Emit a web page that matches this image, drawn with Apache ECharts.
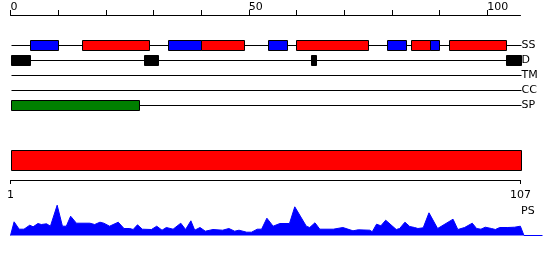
<!DOCTYPE html>
<html>
<head>
<meta charset="utf-8">
<script src="https://cdn.jsdelivr.net/npm/echarts@6/dist/echarts.min.js"></script>
<style>html,body{margin:0;padding:0;background:#fff}#c{width:550px;height:260px}</style>
</head>
<body>
<div id="c"></div>
<script>
// ---- data ----
const seqLength = 107;
const tracks = ['SS', 'D', 'TM', 'CC', 'SP'];
const topTickValues = [0, 10, 20, 30, 40, 50, 60, 70, 80, 90, 100];
const topTickLabels = [0, 50, 100];
const bottomTickLabels = [1, 107];

// secondary structure (H = helix, E = strand)
const ssStart = [4, 15, 33, 40, 54, 60, 79, 84, 88, 92];
const ssEnd   = [10, 29, 40, 49, 58, 75, 83, 88, 90, 104];
const ssType  = ['E', 'H', 'E', 'H', 'E', 'H', 'E', 'H', 'E', 'H'];
// disorder
const disStart = [0, 28, 63, 104];
const disEnd   = [4, 31, 64, 107];
// signal peptide
const spStart = [0];
const spEnd   = [27];
// domain bar
const domStart = [1];
const domEnd   = [107];

// PS profile
const psPos = [1, 1.75, 2.8, 3.8, 5, 5.7, 6.7, 7.4, 8.5, 9.3, 10.7, 11.8, 12.6, 13.5, 14.7, 17.5, 18.5, 19.6, 20.4, 21.6,
  23.4, 24.6, 25.8, 26.5, 27.4, 28.4, 30.3, 31.4, 32.5, 33.4, 34.8, 36.4, 37.4, 38.5, 39.3, 40.4, 41.5, 43.1, 45.1, 46.4,
  47.6, 48.5, 50.1, 51.1, 52.3, 53.2, 54.3, 55.6, 57, 59, 60.1, 62.5, 63.2, 64.3, 65.3, 68.1, 70.1, 72.2, 73.3, 75.7,
  76.2, 77.1, 78, 79, 81.2, 81.9, 83, 84, 85, 85.7, 86.8, 88, 89.8, 93, 94, 95.4, 97, 97.9, 98.8, 99.7,
  101, 101.8, 102.7, 104.4, 105.8, 107, 107.75, 111.6];
const psScore = [0, 13.7, 6.3, 6.3, 10.3, 8.7, 12, 11, 11.7, 9.3, 30.3, 9.3, 9.3, 19.3, 12.3, 12.3, 11, 13.3, 12.3, 9.3,
  13.3, 7, 7, 6, 10.7, 6.3, 6, 9.3, 5.3, 8, 6.3, 12.3, 6, 14.7, 5.3, 8, 4.3, 6, 5.3, 7,
  4.3, 5.3, 3.3, 3.3, 6.3, 6.3, 17.3, 9.3, 12, 12, 28.7, 9.3, 8, 12.7, 6.3, 6.3, 8, 4.7, 5.7, 5.3,
  3.7, 11.3, 9.7, 15.3, 6, 7, 13.3, 9, 8, 7, 7.7, 22.7, 7, 16.3, 6, 8, 12.3, 7, 6.3, 8.3,
  7, 6, 8, 8, 8.3, 9.3, 0, 0];

// ---- build series data ----
const featureColor = { H: '#ff0000', E: '#0000ff', D: '#000000', SP: '#008000', DOM: '#ff0000' };
const featureData = [];
ssStart.forEach((s, i) => featureData.push([s, ssEnd[i], 0, ssType[i]]));
disStart.forEach((s, i) => featureData.push([s, disEnd[i], 1, 'D']));
spStart.forEach((s, i) => featureData.push([s, spEnd[i], 4, 'SP']));
const lineData = tracks.map((t, i) => [0, seqLength, i]);
const domData = domStart.map((s, i) => [s, domEnd[i], 0, 'DOM']);
const psData = psPos.map((p, i) => [p, psScore[i]]);

const FONT = 'DejaVu Sans';
const px = v => Math.round(v) + 0.5;

function renderLine(params, api) {
  const a = api.coord([api.value(0), api.value(2)]);
  const b = api.coord([api.value(1), api.value(2)]);
  const y = px(a[1] - 0.5);
  return { type: 'line', shape: { x1: px(a[0]), y1: y, x2: px(b[0]), y2: y },
    style: { stroke: '#000', lineWidth: 1 } };
}
function makeRect(h, dy) {
  return function (params, api) {
    const a = api.coord([api.value(0), api.value(2)]);
    const b = api.coord([api.value(1), api.value(2)]);
    const x0 = px(a[0]), x1 = px(b[0]);
    const y0 = Math.round(a[1] + dy - h / 2) + 0.5;
    return { type: 'rect', shape: { x: x0, y: y0, width: x1 - x0, height: h },
      style: { fill: featureColor[api.value(3)], stroke: '#000', lineWidth: 1 } };
  };
}

const chart = echarts.init(document.getElementById('c'), null, { renderer: 'canvas' });
chart.setOption({
  animation: false,
  textStyle: { fontFamily: FONT },
  title: { text: 'PS', left: 521, top: 206, textStyle: { fontFamily: FONT, fontSize: 11, fontWeight: 'normal', color: '#000' }, padding: 0 },
  grid: [
    { left: 10.5, width: 510, top: 37.5, height: 75 },
    { left: 10.5, width: 510, top: 150, height: 30 },
    { left: 10.5, width: 532, top: 195.5, height: 40 }
  ],
  xAxis: [
    { gridIndex: 0, type: 'value', position: 'top', offset: 22.5, min: 0, max: seqLength,
      splitLine: { show: false },
      axisLine: { show: true, lineStyle: { color: '#000', width: 1 } },
      axisTick: { show: true, length: 5, lineStyle: { color: '#000' }, customValues: topTickValues },
      axisLabel: { show: true, customValues: topTickLabels, align: 'left', margin: 2, fontSize: 11, color: '#000', fontFamily: FONT } },
    { gridIndex: 1, type: 'value', position: 'bottom', min: 1, max: seqLength,
      splitLine: { show: false },
      axisLine: { show: true, lineStyle: { color: '#000', width: 1 } },
      axisTick: { show: true, length: 4, lineStyle: { color: '#000' }, customValues: bottomTickLabels },
      axisLabel: { show: true, customValues: bottomTickLabels, margin: 10, fontSize: 11, color: '#000', fontFamily: FONT } },
    { gridIndex: 2, type: 'value', min: 1, max: 111.6, show: false }
  ],
  yAxis: [
    { gridIndex: 0, type: 'category', data: tracks, inverse: true, position: 'right',
      axisLine: { show: false }, axisTick: { show: false }, splitLine: { show: false },
      axisLabel: { margin: 1, fontSize: 11, color: '#000', fontFamily: FONT } },
    { gridIndex: 1, type: 'category', data: ['dom'], show: false },
    { gridIndex: 2, type: 'value', min: 0, max: 40, show: false }
  ],
  series: [
    { type: 'custom', xAxisIndex: 0, yAxisIndex: 0, renderItem: renderLine, data: lineData, z: 1, silent: true },
    { type: 'custom', xAxisIndex: 0, yAxisIndex: 0, renderItem: makeRect(10, 0), data: featureData, z: 2, silent: true },
    { type: 'custom', xAxisIndex: 1, yAxisIndex: 1, renderItem: makeRect(20, -5), data: domData, z: 2, silent: true },
    { type: 'line', xAxisIndex: 2, yAxisIndex: 2, data: psData, symbol: 'none', smooth: false,
      lineStyle: { color: '#0000ff', width: 1 }, areaStyle: { color: '#0000ff', opacity: 1 }, z: 2, silent: true }
  ]
});
</script>
</body>
</html>
